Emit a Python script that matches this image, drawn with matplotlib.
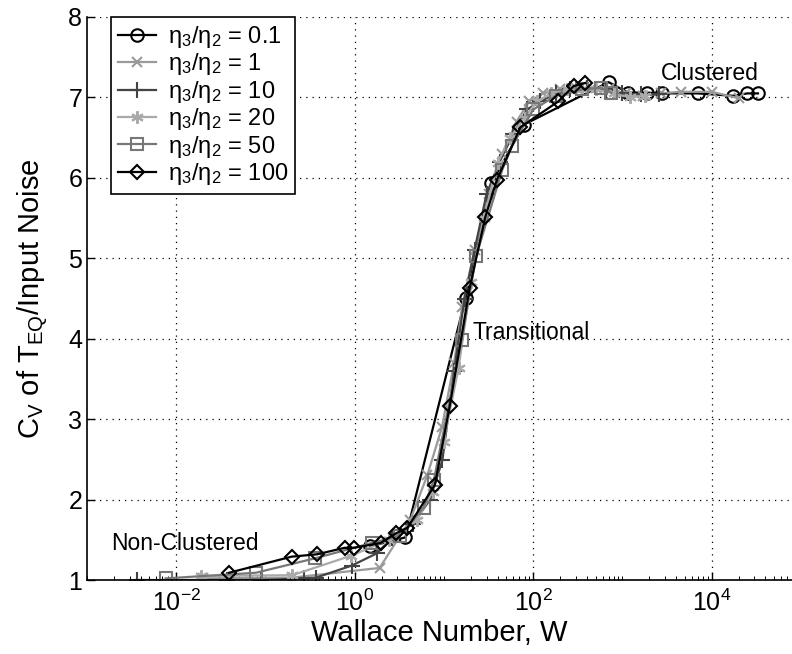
import numpy as np
import matplotlib
matplotlib.use("Agg")
import matplotlib.pyplot as plt
from matplotlib.ticker import FixedLocator, LogLocator, NullFormatter

plt.rcParams['font.family'] = ['Liberation Sans', 'DejaVu Sans']
plt.rcParams['mathtext.fontset'] = 'custom'
plt.rcParams['mathtext.rm'] = 'Liberation Sans'
plt.rcParams['mathtext.it'] = 'Liberation Sans:italic'
plt.rcParams['mathtext.default'] = 'regular'

# ---------- data ----------
w_01 = [1.5, 3.7, 17.5, 34, 78, 700, 1150, 1900, 2800, 7000, 17500, 25000, 33000]
cv_01 = [1.42, 1.53, 4.51, 5.93, 6.66, 7.19, 7.06, 7.06, 7.05, 7.05, 7.02, 7.05, 7.05]

w_1 = [0.02, 0.2, 1.9, 4.2, 6.5, 9.5, 13, 16, 22, 32, 45, 65, 90, 130, 200,
       300, 450, 700, 1100, 1700, 2700, 4500, 10000, 20000]
cv_1 = [1.02, 1.03, 1.15, 1.75, 2.3, 2.9, 3.7, 4.4, 5.1, 5.8, 6.3, 6.7, 6.95, 7.05, 7.1,
        7.12, 7.1, 7.1, 7.05, 7.02, 7.05, 7.07, 7.07, 6.99]

w_10 = [0.0036, 0.037, 0.09, 0.27, 0.37, 0.93, 1.76, 2.6, 4.5, 7, 9.6, 13, 17, 22, 30,
        42, 60, 85, 120, 180, 260, 400, 650, 1000, 1600, 2600]
cv_10 = [1.0, 1.0, 1.0, 1.02, 1.03, 1.18, 1.33, 1.52, 1.7, 2.0, 2.49, 3.6, 4.5, 5.1, 5.8,
         6.2, 6.55, 6.85, 6.95, 7.05, 7.1, 7.12, 7.1, 7.05, 7.04, 7.04]

w_20 = [0.019, 0.2, 0.9, 2.4, 5, 7.5, 9.9, 14.6, 20, 28, 40, 55, 80, 110, 160, 240,
        350, 500, 800, 1200, 1800]
cv_20 = [1.05, 1.06, 1.3, 1.5, 1.75, 2.1, 2.72, 3.64, 4.7, 5.5, 6.19, 6.5, 6.75, 6.95,
         7.05, 7.1, 7.1, 7.1, 7.05, 7.0, 7.02]

w_50 = [0.0076, 0.078, 0.36, 1.55, 3.2, 5.9, 7.7, 15.8, 23, 45, 58, 100, 180, 350, 580, 750]
cv_50 = [1.02, 1.09, 1.27, 1.46, 1.55, 1.9, 2.24, 3.98, 5.03, 6.1, 6.4, 6.85, 7.02, 7.1,
         7.12, 7.06]

w_100 = [0.039, 0.196, 0.38, 0.77, 0.97, 1.95, 2.9, 3.9, 7.9, 11.6, 19.4, 29, 39, 72,
         191, 283, 385]
cv_100 = [1.09, 1.29, 1.32, 1.40, 1.40, 1.46, 1.58, 1.65, 2.18, 3.16, 4.63, 5.51, 5.97,
          6.63, 6.95, 7.14, 7.18]

ratios = ["0.1", "1", "10", "20", "50", "100"]

series = [
    (w_01, cv_01, "o", "black", 9),
    (w_1, cv_1, "x", "#9a9a9a", 7.5),
    (w_10, cv_10, "+", "#444444", 11),
    (w_20, cv_20, (6, 2, 0), "#aaaaaa", 9),
    (w_50, cv_50, "s", "#777777", 8),
    (w_100, cv_100, "D", "black", 7.5),
]

fig = plt.figure(figsize=(7.92, 6.54), dpi=100)
ax = fig.add_axes([87 / 792, 74 / 654, (792 - 87) / 792, (580 - 17) / 654])

for (w, cv, mk, col, ms), r in zip(series, ratios):
    ax.plot(w, cv, marker=mk, color=col, lw=1.6, ms=ms, mew=1.5, mfc="none",
            label=r"$\eta_3/\eta_2$ = " + r)

ax.set_xscale("log")
ax.set_xlim(1e-3, 10 ** 4.9)
ax.set_ylim(1, 8)

ax.xaxis.set_major_locator(FixedLocator([1e-2, 1e0, 1e2, 1e4]))
ax.xaxis.set_minor_locator(LogLocator(base=10, subs=np.arange(1, 10), numticks=30))
ax.xaxis.set_minor_formatter(NullFormatter())
ax.set_yticks(range(1, 9))

ax.tick_params(which="both", direction="in", labelsize=18, top=False, right=False)
ax.tick_params(which="major", length=6, width=1)
ax.tick_params(which="minor", length=3, width=0.7)
ax.tick_params(axis="x", pad=7)

ax.grid(True, which="major", linestyle=(0, (1, 4)), color="black", linewidth=0.9)
ax.spines["top"].set_visible(False)
ax.spines["right"].set_visible(False)
for s in ("left", "bottom"):
    ax.spines[s].set_linewidth(1.2)

ax.set_xlabel("Wallace Number, W", fontsize=21, labelpad=2)
ax.set_ylabel(r"C$_\mathrm{V}$ of T$_\mathrm{EQ}$/Input Noise", fontsize=21, labelpad=12)

ax.text(0.0125, 1.46, "Non-Clustered", fontsize=16.5, ha="center", va="center")
ax.text(21, 4.08, "Transitional", fontsize=16.5, ha="left", va="center")
ax.text(9500, 7.3, "Clustered", fontsize=16.5, ha="center", va="center")

leg = ax.legend(loc="upper left", bbox_to_anchor=(0.034, 1.0), fontsize=17,
                frameon=True, fancybox=False, framealpha=1, edgecolor="black",
                handlelength=1.6, handletextpad=0.5, labelspacing=0.06,
                borderpad=0.3, borderaxespad=0)
leg.get_frame().set_linewidth(1.2)

fig.savefig("out.png", dpi=100)
